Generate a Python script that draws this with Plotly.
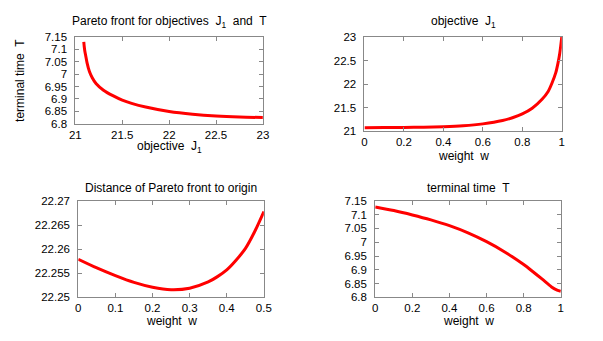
import plotly.graph_objects as go

# weight w samples and readings from the right-hand panels
w_vals = [0.0, 0.1, 0.2, 0.3, 0.4, 0.5, 0.6, 0.7, 0.75, 0.8, 0.85, 0.9, 0.93, 0.95, 0.97, 0.98, 0.99, 1.0]
J1_vals = [21.08, 21.082, 21.085, 21.09, 21.10, 21.12, 21.16, 21.23, 21.29, 21.37, 21.49, 21.68, 21.84, 22.02, 22.25, 22.43, 22.66, 23.0]
Tw = [0.0, 0.1, 0.2, 0.3, 0.4, 0.5, 0.6, 0.7, 0.8, 0.85, 0.9, 0.95, 0.98, 1.0]
T_vals = [7.128, 7.115, 7.099, 7.081, 7.060, 7.034, 7.002, 6.964, 6.919, 6.893, 6.866, 6.838, 6.826, 6.822]

# Pareto front
pf_J1 = [21.09, 21.095, 21.1, 21.11, 21.125, 21.15, 21.18, 21.22, 21.3, 21.4, 21.5, 21.6, 21.75, 22.0, 22.25, 22.5, 22.75, 23.0]
pf_T = [7.13, 7.11, 7.095, 7.075, 7.045, 7.01, 6.985, 6.962, 6.935, 6.913, 6.895, 6.882, 6.867, 6.849, 6.838, 6.831, 6.827, 6.825]

# distance of Pareto front to origin
dw = [0.0, 0.05, 0.1, 0.15, 0.2, 0.25, 0.3, 0.35, 0.375, 0.4, 0.425, 0.45, 0.475, 0.5]
dist = [22.2579, 22.2561, 22.2545, 22.2531, 22.2521, 22.2516, 22.2519, 22.2532, 22.2543, 22.2557, 22.2577, 22.2601, 22.2636, 22.2678]

# tick labels
t1x = [21, 21.5, 22, 22.5, 23]
t1y = [6.8, 6.85, 6.9, 6.95, 7, 7.05, 7.1, 7.15]
t2x = [0, 0.2, 0.4, 0.6, 0.8, 1]
t2y = [21, 21.5, 22, 22.5, 23]
t3x = [0, 0.1, 0.2, 0.3, 0.4, 0.5]
t3y = [22.25, 22.255, 22.26, 22.265, 22.27]
t4x = t2x
t4y = t1y

def lbl(v):
    return "%g" % v

FONT = "Liberation Sans, Arial, sans-serif"
RED = "#ff0000"

fig = go.Figure()
line = dict(color=RED, width=3, shape="spline", smoothing=0.8)
fig.add_trace(go.Scatter(x=pf_J1, y=pf_T, mode="lines", line=line, xaxis="x", yaxis="y", showlegend=False))
fig.add_trace(go.Scatter(x=w_vals, y=J1_vals, mode="lines", line=line, xaxis="x2", yaxis="y2", showlegend=False))
fig.add_trace(go.Scatter(x=dw, y=dist, mode="lines", line=line, xaxis="x3", yaxis="y3", showlegend=False))
fig.add_trace(go.Scatter(x=Tw, y=T_vals, mode="lines", line=line, xaxis="x4", yaxis="y4", showlegend=False))

W, H = 603, 341
def dx(a, b):
    return [a / W, b / W]
def dy(top, bottom):
    return [1 - bottom / H, 1 - top / H]

def ax(domain, rng, ticks, anchor, standoff):
    return dict(domain=domain, range=rng, tickvals=ticks, ticktext=[lbl(t) for t in ticks],
                ticks="inside", ticklen=4, tickcolor="#888888", showline=True, linecolor="#888888",
                linewidth=1, mirror="ticks", showgrid=False, zeroline=False, anchor=anchor,
                ticklabelstandoff=standoff,
                tickfont=dict(family=FONT, size=11.5, color="black"))

fig.update_layout(
    width=W, height=H, margin=dict(l=0, r=0, t=0, b=0),
    paper_bgcolor="white", plot_bgcolor="white",
    xaxis=ax(dx(71, 263), [21, 23], t1x, "y", 0),
    yaxis=ax(dy(32, 122), [6.8, 7.15], t1y, "x", 5),
    xaxis2=ax(dx(367, 569), [0, 1], t2x, "y2", 0),
    yaxis2=ax(dy(32, 130), [21, 23], t2y, "x2", 5),
    xaxis3=ax(dx(74, 264), [0, 0.5], t3x, "y3", 0),
    yaxis3=ax(dy(202, 302), [22.25, 22.27], t3y, "x3", 5),
    xaxis4=ax(dx(378, 568), [0, 1], t4x, "y4", 0),
    yaxis4=ax(dy(202, 302), [6.8, 7.15], t4y, "x4", 5),
)

def ann(text, x, y, angle=0):
    fig.add_annotation(text=text, x=x / W, y=1 - y / H, xref="paper", yref="paper",
                       showarrow=False, textangle=angle, xanchor="center", yanchor="middle",
                       font=dict(family=FONT, size=12, color="black"))

ann("Pareto front for objectives  J<sub>1</sub>  and  T", 167, 17)
ann("objective  J<sub>1</sub>", 167, 146)
ann("terminal time  T", 15, 77, -90)
ann("objective  J<sub>1</sub>", 468, 17)
ann("weight  w", 468, 155)
ann("Distance of Pareto front to origin", 169, 189)
ann("weight  w", 169, 326)
ann("terminal time  T", 473, 189)
ann("weight  w", 473, 327)

fig.write_html("out.html")
